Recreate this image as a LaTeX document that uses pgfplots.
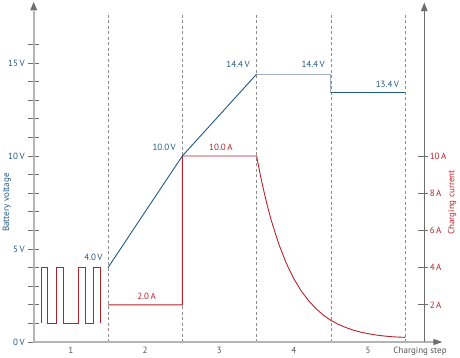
\documentclass[border=0pt]{standalone}
\usepackage{pgfplots}
\pgfplotsset{compat=1.18}
\usepackage{fontspec}
\setmainfont{PT Sans}
\definecolor{vblue}{HTML}{1F5A85}
\definecolor{vlight}{HTML}{A2B1C3}
\definecolor{ired}{HTML}{B3232B}
\definecolor{axgray}{HTML}{B4B4B4}
\definecolor{darkax}{HTML}{6E6E6E}
\definecolor{dashgray}{HTML}{8C8C8C}
\definecolor{txtgray}{HTML}{555555}
\begin{document}
\begin{tikzpicture}[font=\fontsize{9}{10.5}\selectfont]
\begin{axis}[
  scale only axis, width=408.65pt, height=340.38pt,
  xmin=0, xmax=5.5, ymin=0, ymax=18.3,
  clip=false,
  axis lines=left,
  axis line style={draw=none,-},
  xtick={0.5,1.5,2.5,3.5,4.5},
  xticklabels={1,2,3,4,5},
  x tick style={draw=none},
  xticklabel style={text=txtgray, yshift=3.5pt},
  ytick={0,1,...,16},
  yticklabels={0\,V,,,,,5\,V,,,,,10\,V,,,,,15\,V,},
  y tick style={draw=darkax, line width=0.8pt},
  major tick length=11pt,
  tick align=center,
  yticklabel style={text=vblue},
  /pgf/number format/assume math mode=true,
]
\coordinate (O) at (axis cs:0,0);
% dashed separators
\pgfplotsinvokeforeach{1,2,3,4,5}{
  \draw[dashgray, line width=0.7pt, dash pattern=on 3pt off 2.5pt] (axis cs:#1,0) -- (axis cs:#1,17.6);
}
% axes
\draw[axgray, line width=2.2pt] (axis cs:0,0) -- (axis cs:0,17.8);
\fill[darkax] (axis cs:0,18.28) -- ++(-3.6pt,-8.5pt) -- ++(7.2pt,0) -- cycle;
\draw[axgray, line width=2pt] (axis cs:-0.01,0) -- (axis cs:5.40,0);
\fill[darkax] (axis cs:5.5,0) -- ++(-9pt,-3.2pt) -- ++(0,6.4pt) -- cycle;
\draw[darkax, line width=0.9pt] (axis cs:5.257,0) -- (axis cs:5.257,17.8);
\fill[darkax] (axis cs:5.257,18.25) -- ++(-3.4pt,-8.5pt) -- ++(6.8pt,0) -- cycle;
\pgfplotsinvokeforeach{2,4,6,8,10}{
  \draw[darkax, line width=0.8pt] (axis cs:5.175,#1) -- (axis cs:5.31,#1) node[anchor=west, text=ired, inner sep=1.2pt] {#1\,A};
}
% current
\addplot[ired, line width=0.9pt] coordinates {
 (0.1,1)(0.1,4)(0.19,4)(0.19,1)(0.3,1)(0.3,4)(0.4,4)(0.4,1)
 (0.6,1)(0.6,4)(0.7,4)(0.7,1)(0.8,1)(0.8,4)(0.9,4)(0.9,1)};
\addplot[ired, line width=0.9pt] coordinates {
 (1,2)(2,2)(2,10)(3,10)(3.05,8.98)(3.1,8.07)(3.15,7.24)(3.2,6.5)(3.3,5.25)(3.4,4.23)
 (3.5,3.41)(3.6,2.75)(3.7,2.22)(3.8,1.79)(3.9,1.44)(4.0,1.16)(4.1,0.95)(4.2,0.78)
 (4.3,0.64)(4.4,0.53)(4.5,0.45)(4.6,0.38)(4.7,0.33)(4.8,0.29)(4.9,0.265)(5.0,0.25)};
% voltage
\addplot[vblue, line width=0.9pt] coordinates {(1,4)(2,10)(3,14.4)};
\addplot[vlight, line width=1.1pt] coordinates {(3,14.4)(4,14.4)(4,13.4)};
\addplot[vblue, line width=0.9pt] coordinates {(4,13.4)(5,13.4)};
% value labels
\node[anchor=base east, text=vblue, inner sep=0pt] at (axis cs:0.93,4.38) {4.0\,V};
\node[anchor=base east, text=vblue, inner sep=0pt] at (axis cs:1.915,10.32) {10.0\,V};
\node[anchor=base, text=ired, inner sep=0pt] at (axis cs:2.52,10.32) {10.0\,A};
\node[anchor=base east, text=ired, inner sep=0pt] at (axis cs:1.646,2.31) {2.0\,A};
\node[anchor=base east, text=vblue, inner sep=0pt] at (axis cs:2.91,14.76) {14.4\,V};
\node[anchor=base east, text=vblue, inner sep=0pt] at (axis cs:3.92,14.76) {14.4\,V};
\node[anchor=base east, text=vblue, inner sep=0pt] at (axis cs:4.92,13.68) {13.4\,V};
% axis titles
\node[rotate=90, text=vblue, inner sep=0pt] at (axis cs:-0.36,7.5) {Battery voltage};
\node[rotate=90, text=ired, inner sep=0pt] at (axis cs:5.63,7.5) {Charging current};
\node[text=txtgray, inner sep=0pt] at (axis cs:5.2,-0.52) {Charging step};
\end{axis}
\pgfresetboundingbox
\path[use as bounding box] ([shift={(-33.7pt,-15pt)}]O) rectangle ([shift={(426.3pt,342pt)}]O);
\end{tikzpicture}
\end{document}
